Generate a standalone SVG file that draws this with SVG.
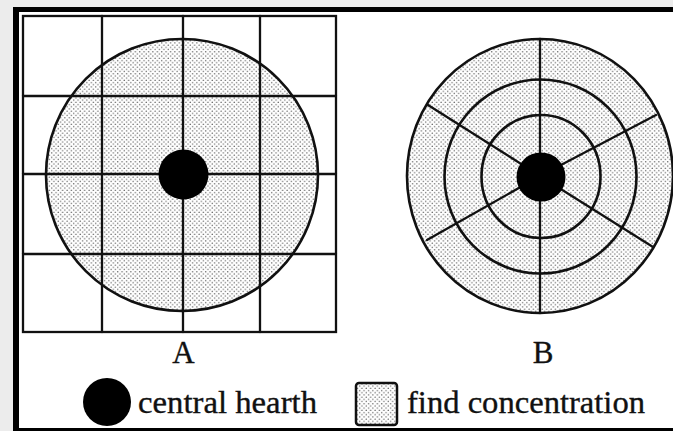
<svg xmlns="http://www.w3.org/2000/svg" width="673" height="431" viewBox="0 0 673 431">
  <defs>
    <pattern id="stipple" x="0" y="0" width="4.4" height="4.4" patternUnits="userSpaceOnUse">
      <circle cx="1.1" cy="1.1" r="0.75" fill="#6a6a6a"/>
      <circle cx="3.3" cy="3.3" r="0.75" fill="#6a6a6a"/>
    </pattern>
  </defs>
  <style>
    .ln { stroke: #111; stroke-width: 2.3; fill: none; stroke-linecap: round; }
    .ring { stroke: #111; stroke-width: 2.6; fill: none; }
    .dots { fill: url(#stipple); }
    .hearth { fill: #000; }
    .lbl { font-family: "Liberation Serif", "Times New Roman", serif; fill: #111; stroke: #111; stroke-width: 0.35; }
  </style>

  <!-- frame -->
  <rect x="0" y="0" width="673" height="431" fill="#ececec"/>
  <rect x="13" y="7" width="660" height="424" fill="#000"/>
  <rect x="19" y="12" width="654" height="416" fill="#fff"/>

  <g id="figure-a">
    <circle class="dots" cx="182" cy="175" r="136"/>
    <rect class="ln" x="23" y="16" width="313" height="316"/>
    <line class="ln" x1="102" y1="16" x2="102" y2="332"/>
    <line class="ln" x1="183" y1="16" x2="183" y2="332"/>
    <line class="ln" x1="260" y1="16" x2="260" y2="332"/>
    <line class="ln" x1="23" y1="96" x2="336" y2="96"/>
    <line class="ln" x1="23" y1="174" x2="336" y2="174"/>
    <line class="ln" x1="23" y1="254" x2="336" y2="254"/>
    <circle class="ring" cx="182" cy="175" r="136"/>
    <circle class="hearth" cx="183.5" cy="174.5" r="25"/>
    <text class="lbl" x="183.5" y="363" font-size="31" text-anchor="middle">A</text>
  </g>

  <g id="figure-b">
    <ellipse class="dots" cx="540" cy="176" rx="133" ry="137"/>
    <ellipse class="ring" cx="540" cy="176" rx="133" ry="137"/>
    <ellipse class="ring" cx="540.5" cy="176.5" rx="96" ry="97"/>
    <ellipse class="ring" cx="541" cy="176.5" rx="59.5" ry="61.5"/>
    <g id="spokes">
      <line class="ln" x1="540" y1="176" x2="540" y2="39"/>
      <line class="ln" x1="540" y1="176" x2="540" y2="313"/>
      <line class="ln" x1="540" y1="176" x2="428" y2="105"/>
      <line class="ln" x1="540" y1="176" x2="656" y2="115"/>
      <line class="ln" x1="540" y1="176" x2="427" y2="240"/>
      <line class="ln" x1="540" y1="176" x2="653" y2="247"/>
    </g>
    <circle class="hearth" cx="541" cy="177" r="24.5"/>
    <text class="lbl" x="543" y="363" font-size="31" text-anchor="middle">B</text>
  </g>

  <g id="legend-hearth">
    <ellipse class="hearth" cx="107" cy="402" rx="24" ry="24"/>
    <text class="lbl" x="138" y="413" font-size="32" textLength="179" lengthAdjust="spacingAndGlyphs">central hearth</text>
  </g>

  <g id="legend-find">
    <rect class="dots" x="356" y="383" width="41" height="42" rx="3"/>
    <rect x="356" y="383" width="41" height="42" rx="3" fill="none" stroke="#111" stroke-width="2.5"/>
    <text class="lbl" x="407" y="413" font-size="32" textLength="238" lengthAdjust="spacingAndGlyphs">find concentration</text>
  </g>

  <g id="connectors"></g>
</svg>
